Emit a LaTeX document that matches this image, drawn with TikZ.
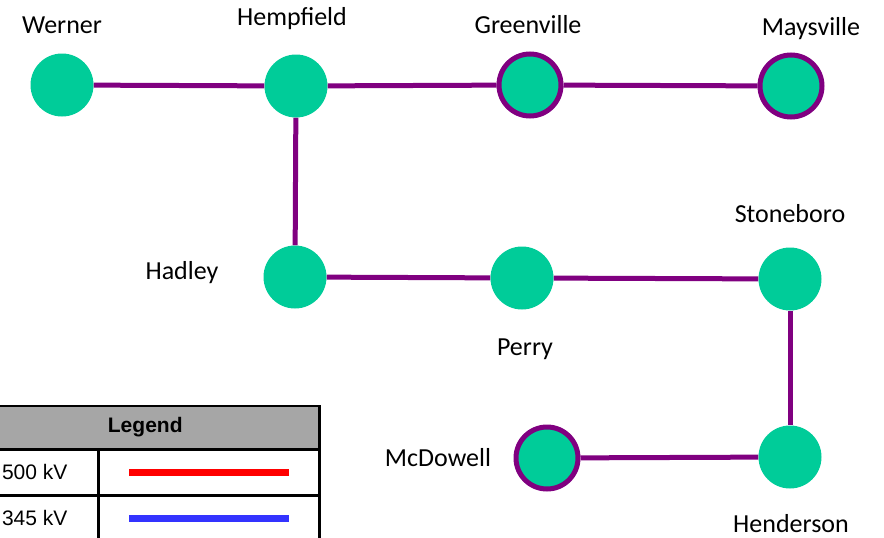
\documentclass[tikz,border=0pt]{standalone}
\usepackage{fontspec}
\setmainfont{Carlito}
\newfontfamily\legendfont{Liberation Sans}
\usepackage{tikz}
\usetikzlibrary{positioning,backgrounds}
\definecolor{busgreen}{HTML}{00CC99}
\definecolor{linepurple}{HTML}{800080}
\definecolor{hdrgray}{HTML}{A6A6A6}
\definecolor{kvblue}{HTML}{3333FF}

\begin{document}
\begin{tikzpicture}[
    x=1pt, y=-1pt,
    bus/.style={circle, fill=busgreen, minimum size=63pt, inner sep=0pt},
    ringbus/.style={bus, draw=linepurple, line width=5pt, minimum size=62pt},
    busname/.style={font=\fontsize{26}{30}\selectfont, anchor=base, inner sep=0pt},
    tline/.style={linepurple, line width=5pt},
    cell/.style={draw, line width=2.5pt, inner sep=0pt, anchor=north west, font=\legendfont\fontsize{21}{25}\selectfont},
    swatch/.style={minimum width=160pt, minimum height=7pt, inner sep=0pt}
]
\useasboundingbox (0,0) rectangle (884,538);
\clip (0,0) rectangle (884,538);

% substations
\node[bus] (werner) at (62,85) {};
\node[bus] (hempfield) at (296,86) {};
\node[ringbus] (greenville) at (530,85) {};
\node[ringbus] (maysville) at (791,86) {};
\node[bus] (hadley) at (295,277) {};
\node[bus] (perry) at (522,278) {};
\node[bus] (stoneboro) at (790,279) {};
\node[bus] (henderson) at (790,457) {};
\node[ringbus] (mcdowell) at (547,458) {};

% names
\node[busname] (werner-name) at (62,33) {Werner};
\node[busname] (hempfield-name) at (292,25) {Hempfield};
\node[busname] (greenville-name) at (528,33) {Greenville};
\node[busname] (maysville-name) at (811,35.5) {Maysville};
\node[busname] (stoneboro-name) at (790,222) {Stoneboro};
\node[busname] (hadley-name) at (182,279) {Hadley};
\node[busname] (perry-name) at (525,355) {Perry};
\node[busname] (mcdowell-name) at (438,466.5) {McDowell};
\node[busname] (henderson-name) at (791,532) {Henderson};

% lines
\begin{scope}[on background layer]
\draw[tline] (werner) -- (hempfield);
\draw[tline] (hempfield) -- (greenville);
\draw[tline] (greenville) -- (maysville);
\draw[tline] (hempfield) -- (hadley);
\draw[tline] (hadley) -- (perry);
\draw[tline] (perry) -- (stoneboro);
\draw[tline] (stoneboro) -- (henderson);
\draw[tline] (henderson) -- (mcdowell);
\end{scope}

% legend
\node[cell, fill=hdrgray, minimum width=348pt, minimum height=43.5pt, font=\legendfont\bfseries\fontsize{21}{25}\selectfont] (legend) at (-30,404.5) {Legend};
\node[cell, minimum width=127pt, minimum height=46pt] (kv500) at (-30,448) {500 kV};
\node[cell, minimum width=221pt, minimum height=46pt] (kv500-line) at (97,448) {};
\node[cell, minimum width=127pt, minimum height=46pt] (kv345) at (-30,494) {345 kV};
\node[cell, minimum width=221pt, minimum height=46pt] (kv345-line) at (97,494) {};
\node[swatch, fill=red] (kv500-swatch) at (kv500-line) {};
\node[swatch, fill=kvblue] (kv345-swatch) at (kv345-line) {};
\end{tikzpicture}
\end{document}
